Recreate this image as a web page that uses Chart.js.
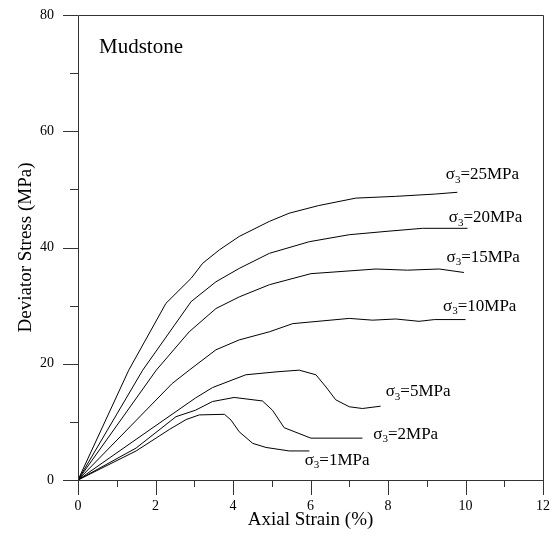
<!DOCTYPE html>
<html>
<head>
<meta charset="utf-8">
<script src="https://cdn.jsdelivr.net/npm/chart.js@4/dist/chart.umd.min.js"></script>
<style>
  html, body { margin: 0; padding: 0; background: #fff; }
  #wrap { width: 559px; height: 541px; position: relative; }
</style>
</head>
<body>
<div id="wrap"><canvas id="c" width="559" height="541"></canvas></div>
<script>
// ---- Data ----
const strain25 = [0, 1.31, 2.27, 2.92, 3.22, 3.65, 4.16, 4.94, 5.45, 6.2, 7.17, 8.2, 9.23, 9.79];
const stress25 = [0, 18.9, 30.4, 34.7, 37.3, 39.6, 41.9, 44.5, 45.9, 47.2, 48.5, 48.8, 49.2, 49.5];

const strain20 = [0, 1.67, 2.92, 3.56, 4.16, 4.94, 5.97, 7.0, 8.0, 8.89, 10.05];
const stress20 = [0, 18.9, 30.7, 34.1, 36.4, 39.0, 41.0, 42.2, 42.8, 43.3, 43.3];

const strain15 = [0, 2.02, 2.87, 3.56, 4.16, 4.94, 6.01, 7.69, 8.5, 9.32, 9.96];
const stress15 = [0, 18.9, 25.5, 29.5, 31.5, 33.6, 35.5, 36.3, 36.1, 36.3, 35.7];

const strain10 = [0, 2.43, 2.87, 3.56, 4.16, 4.94, 5.54, 7.0, 7.6, 8.2, 8.8, 9.2, 10.0];
const stress10 = [0, 16.6, 18.9, 22.4, 24.1, 25.5, 26.9, 27.8, 27.5, 27.7, 27.3, 27.6, 27.6];

const strain5 = [0, 1.5, 3.03, 3.47, 4.33, 5.11, 5.71, 6.14, 6.4, 6.65, 7.0, 7.34, 7.81];
const stress5 = [0, 7.0, 14.1, 15.9, 18.1, 18.6, 18.9, 18.1, 16.0, 13.8, 12.6, 12.3, 12.7];

const strain2 = [0, 1.5, 2.53, 3.03, 3.47, 4.03, 4.76, 5.02, 5.32, 6.01, 7.34];
const stress2 = [0, 5.5, 10.9, 12.0, 13.5, 14.2, 13.6, 12.0, 9.0, 7.2, 7.2];

const strain1 = [0, 1.5, 2.36, 2.79, 3.13, 3.78, 3.95, 4.16, 4.51, 4.85, 5.45, 5.97];
const stress1 = [0, 5.0, 8.7, 10.4, 11.2, 11.3, 10.3, 8.3, 6.3, 5.6, 5.0, 5.0];

// label texts and anchor (data units) for each curve
const seriesNames = ['25', '20', '15', '10', '5', '2', '1'];
const labelStrain = [9.49, 9.57, 9.51, 9.42, 7.94, 7.62, 5.85];
const labelStress = [52.5, 45.1, 38.3, 29.9, 15.2, 7.9, 3.4];

const xTicksMajor = [0, 2, 4, 6, 8, 10, 12];
const yTicksMajor = [0, 20, 40, 60, 80];

const panelTitle = 'Mudstone';
const xTitle = 'Axial Strain (%)';
const yTitle = 'Deviator Stress (MPa)';

// ---- Build datasets ----
function pts(xs, ys) { return xs.map((x, i) => ({ x: x, y: ys[i] })); }
const allStrain = [strain25, strain20, strain15, strain10, strain5, strain2, strain1];
const allStress = [stress25, stress20, stress15, stress10, stress5, stress2, stress1];

const datasets = allStrain.map((xs, i) => ({
  label: 'σ3=' + seriesNames[i] + 'MPa',
  data: pts(xs, allStress[i]),
  borderColor: '#000',
  borderWidth: 1,
  pointRadius: 0,
  tension: 0,
  showLine: true,
  fill: false
}));

const SERIF = '"Liberation Serif", "Times New Roman", serif';

const framePlugin = {
  id: 'frame',
  afterDatasetsDraw(chart) {
    const { ctx, chartArea: a, scales } = chart;
    const xs = scales.x, ys = scales.y;
    ctx.save();
    ctx.strokeStyle = '#333';
    ctx.lineWidth = 1;
    ctx.beginPath();
    ctx.rect(Math.round(a.left) + 0.5, Math.round(a.top) + 0.5,
             Math.round(a.right - a.left), Math.round(a.bottom - a.top));
    ctx.stroke();
    // x tick marks (major every 2, minor every 1), outward
    ctx.beginPath();
    for (let v = xs.min; v <= xs.max + 1e-9; v += 1) {
      const px = Math.round(xs.getPixelForValue(v)) + 0.5;
      const len = (Math.abs(v % 2) < 1e-9) ? 15 : 7;
      ctx.moveTo(px, a.bottom);
      ctx.lineTo(px, a.bottom + len);
    }
    // y tick marks (major every 20, minor every 10), outward
    for (let v = ys.min; v <= ys.max + 1e-9; v += 10) {
      const py = Math.round(ys.getPixelForValue(v)) + 0.5;
      const len = (Math.abs(v % 20) < 1e-9) ? 15 : 8;
      ctx.moveTo(a.left, py);
      ctx.lineTo(a.left - len, py);
    }
    ctx.stroke();

    // panel title
    ctx.fillStyle = '#000';
    ctx.font = '21px ' + SERIF;
    ctx.textBaseline = 'alphabetic';
    ctx.textAlign = 'left';
    ctx.fillText(panelTitle, a.left + 21, a.top + 38);

    // curve labels with subscript 3
    ctx.textBaseline = 'middle';
    const big = 17, small = 11;
    for (let i = 0; i < seriesNames.length; i++) {
      let x = xs.getPixelForValue(labelStrain[i]);
      const y = ys.getPixelForValue(labelStress[i]);
      ctx.font = big + 'px ' + SERIF;
      ctx.fillText('σ', x, y);
      x += ctx.measureText('σ').width;
      ctx.font = small + 'px ' + SERIF;
      ctx.fillText('3', x, y + 5);
      x += ctx.measureText('3').width;
      ctx.font = big + 'px ' + SERIF;
      ctx.fillText('=' + seriesNames[i] + 'MPa', x, y);
    }
    ctx.restore();
  }
};

new Chart(document.getElementById('c'), {
  type: 'scatter',
  data: { datasets },
  plugins: [framePlugin],
  options: {
    responsive: false,
    animation: false,
    devicePixelRatio: 1,
    layout: { padding: { left: 0, right: 16, top: 15, bottom: 0 } },
    plugins: { legend: { display: false }, tooltip: { enabled: false } },
    scales: {
      x: {
        type: 'linear', min: 0, max: 12,
        afterFit(s) { s.height = 61; s.paddingLeft = 0; s.paddingRight = 0; },
        afterBuildTicks(s) { s.ticks = xTicksMajor.map(v => ({ value: v })); },
        grid: { display: false, drawTicks: false },
        border: { display: false },
        ticks: { color: '#000', font: { family: SERIF, size: 14 }, padding: 18, maxRotation: 0 },
        title: { display: true, text: xTitle, color: '#000', font: { family: SERIF, size: 19 }, padding: { top: 0, bottom: 10 } }
      },
      y: {
        type: 'linear', min: 0, max: 80,
        afterFit(s) { s.width = 78; s.paddingTop = 0; s.paddingBottom = 0; },
        afterBuildTicks(s) { s.ticks = yTicksMajor.map(v => ({ value: v })); },
        grid: { display: false, drawTicks: false },
        border: { display: false },
        ticks: { color: '#000', font: { family: SERIF, size: 14 }, padding: 24 },
        title: { display: true, text: yTitle, color: '#000', font: { family: SERIF, size: 19 }, padding: { top: 15, bottom: 0 } }
      }
    }
  }
});
</script>
</body>
</html>
